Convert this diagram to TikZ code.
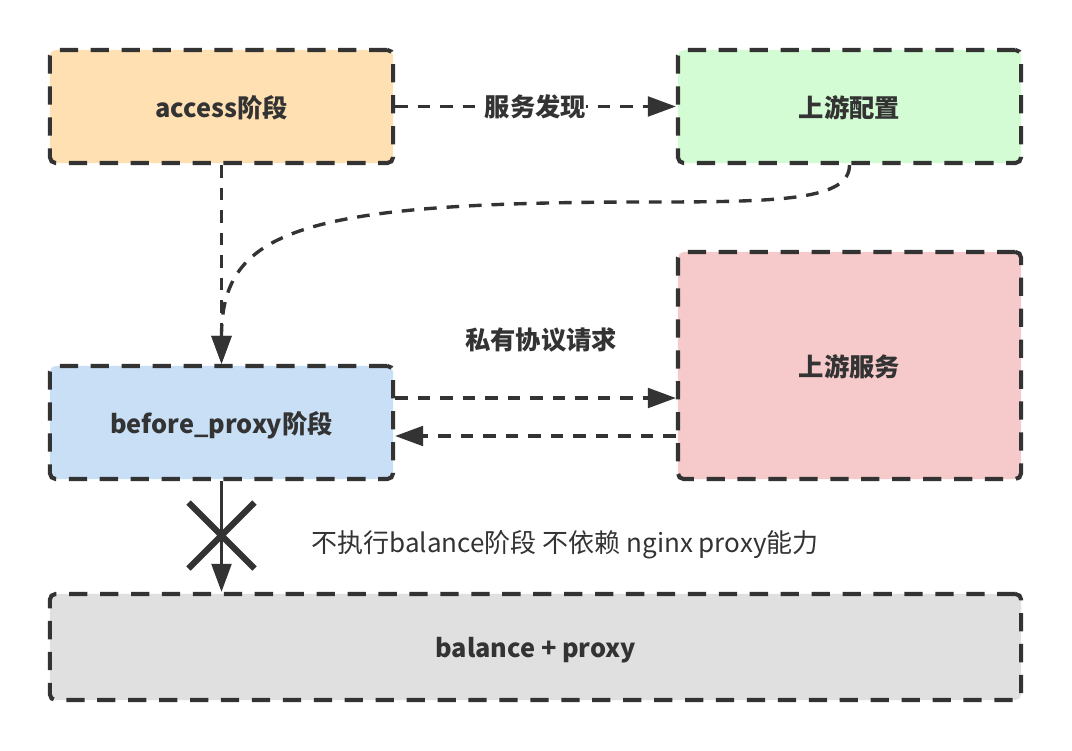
\documentclass[tikz,border=0pt]{standalone}
\usepackage{fontspec}
\setmainfont{Noto Sans CJK SC}
\usepackage{xcolor}
\usetikzlibrary{arrows.meta}
\usetikzlibrary{positioning}

\definecolor{edgegray}{HTML}{333333}
\definecolor{accessfill}{HTML}{FFE0B2}
\definecolor{configfill}{HTML}{D4FCD4}
\definecolor{servicefill}{HTML}{F6CACA}
\definecolor{beforefill}{HTML}{C8DFF5}
\definecolor{balancefill}{HTML}{E0E0E0}

\tikzset{
	stage/.style={draw=edgegray,line width=2.9pt,dash pattern=on 13pt off 9pt,rounded corners=4pt,
		text=edgegray,font=\bfseries\fontsize{18}{21}\selectfont,minimum width=8.575cm,minimum height=2.825cm,
		text depth=-2pt},
	link/.style={draw=edgegray,line width=2.4pt,dash pattern=on 9pt off 7pt,->},
	tag/.style={text=edgegray,font=\bfseries\fontsize{18}{21}\selectfont}
}

\begin{document}
\begin{tikzpicture}[x=0.025cm,y=-0.025cm,every path/.style={>={Triangle[length=20pt,width=14pt]}}]
	\useasboundingbox (0,0) rectangle (1072,750);
	
	% draw stage boxes
	\node[stage,fill=accessfill] (access) at (221.5,106.5) {access阶段};
	\node[stage,fill=configfill] (config) at (849.5,106.5) {上游配置};
	\node[stage,fill=servicefill,minimum height=5.675cm] (service) at (849.5,365.5) {上游服务};
	\node[stage,fill=beforefill] (before) at (221.5,422.5) {before\_proxy阶段};
	\node[stage,fill=balancefill,minimum width=24.275cm,minimum height=2.65cm] (balance) at (535.5,647) {balance + proxy};
	
	% draw line from access to config
	\draw[link] (access.east) -- node[tag,fill=white,inner sep=0pt] (discover) {服务发现} (config.west);
	
	% draw line from access down to before_proxy
	\draw[link] (access.south) -- (before.north);
	
	% draw curve from config to before_proxy
	\coordinate (bend) at (650,202);
	\draw[link] (config.south) .. controls (849.5,200) and (780,202) .. (bend)
		.. controls (300,202) and (221.5,230) .. (before.north);
	
	% draw request and response lines
	\node[tag] (private) at (541,340) {私有协议请求};
	\coordinate (req) at ([shift={(0,-24.5)}]before.east);
	\coordinate (resp) at ([shift={(0,13.5)}]before.east);
	\draw[link] (req) -- (req -| service.west);
	\draw[link] (resp -| service.west) -- (resp);
	
	% draw blocked line to balance
	\draw[edgegray,line width=2.4pt,->] (before.south) -- (before.south |- balance.north);
	\coordinate (cut) at (221.5,535.5);
	\draw[edgegray,line width=4.5pt] ([shift={(-33,-33)}]cut) -- ([shift={(33,33)}]cut)
		([shift={(-33,33)}]cut) -- ([shift={(33,-33)}]cut);
	\node[text=edgegray,font=\fontsize{18.5}{21}\selectfont] (skip) at (565,545) {不执行balance阶段 不依赖 nginx proxy能力};
\end{tikzpicture}
\end{document}
